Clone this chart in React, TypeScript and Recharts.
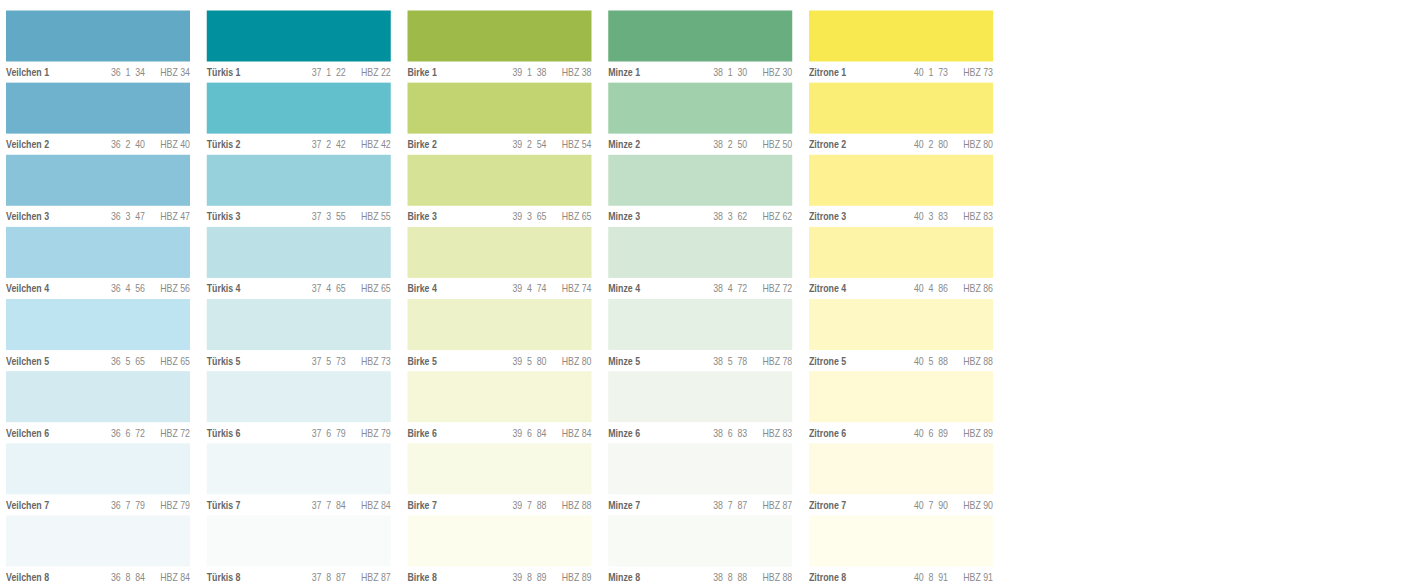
import { BarChart, Bar, XAxis, YAxis } from "recharts";

const FAMILIES = ["Veilchen", "Türkis", "Birke", "Minze", "Zitrone"];
const FAMILY_CODES = [36, 37, 39, 38, 40];
const LEVELS = [1, 2, 3, 4, 5, 6, 7, 8];

const VEILCHEN_HBZ = [34, 40, 47, 56, 65, 72, 79, 84];
const TUERKIS_HBZ = [22, 42, 55, 65, 73, 79, 84, 87];
const BIRKE_HBZ = [38, 54, 65, 74, 80, 84, 88, 89];
const MINZE_HBZ = [30, 50, 62, 72, 78, 83, 87, 88];
const ZITRONE_HBZ = [73, 80, 83, 86, 88, 89, 90, 91];

const VEILCHEN_COLORS = ["#62a9c6", "#6fb2cd", "#88c3d9", "#a6d5e7", "#bee3f1", "#d2eaf0", "#e8f4f8", "#f2f8f9"];
const TUERKIS_COLORS = ["#00909e", "#62c0cd", "#97d2dc", "#bbe1e6", "#d3eaec", "#e1f0f3", "#eff7f8", "#f8fbfa"];
const BIRKE_COLORS = ["#9ebb4a", "#c1d471", "#d6e397", "#e6ecb5", "#eef2c9", "#f5f7d8", "#f9fae5", "#fdfdee"];
const MINZE_COLORS = ["#69ae7e", "#a1d0ac", "#c0dfc6", "#d6e9d9", "#e4f0e4", "#eff5ec", "#f5f8f3", "#f8faf6"];
const ZITRONE_COLORS = ["#f7e94f", "#faee76", "#fdf191", "#fef4a7", "#fef8c4", "#fff9d4", "#fffbe3", "#fffdec"];

const HBZ = [VEILCHEN_HBZ, TUERKIS_HBZ, BIRKE_HBZ, MINZE_HBZ, ZITRONE_HBZ];
const COLORS = [VEILCHEN_COLORS, TUERKIS_COLORS, BIRKE_COLORS, MINZE_COLORS, ZITRONE_COLORS];

// every family gets one unit cell per level, stacked top to bottom
const data = FAMILIES.map((family) => {
  const row: Record<string, string | number> = { family };
  LEVELS.forEach((l) => (row[`l${l}`] = 1));
  return row;
});

const SWATCH_SHARE = 51 / 72.14;
const FONT = "'Liberation Sans', Arial, sans-serif";
const NARROW = 0.8; // squeeze regular sans into a condensed look

function SwatchCell(props: any) {
  const { x, y, width, height, payload, level } = props;
  const fi = FAMILIES.indexOf(payload.family);
  const top = Math.min(y, y + height);
  const h = Math.abs(height);
  const swatchH = h * SWATCH_SHARE;
  const base = top + swatchH + 14.5;
  const hbz = HBZ[fi][level - 1];
  return (
    <g>
      <rect x={x} y={top} width={width} height={swatchH} fill={COLORS[fi][level - 1]} />
      <text
        transform={`translate(${x},${base}) scale(${NARROW},1)`}
        fontFamily={FONT}
        fontSize={11}
        fontWeight={700}
        fill="#666"
      >
        {payload.family} {level}
      </text>
      <text
        transform={`translate(${x + width - 45},${base}) scale(${NARROW},1)`}
        fontFamily={FONT}
        fontSize={11}
        fill="#8a8a8a"
        textAnchor="end"
      >
        {FAMILY_CODES[fi]}
        <tspan dx={6}>{level}</tspan>
        <tspan dx={6}>{hbz}</tspan>
      </text>
      <text
        transform={`translate(${x + width},${base}) scale(${NARROW},1)`}
        fontFamily={FONT}
        fontSize={11}
        fill="#8a8a8a"
        textAnchor="end"
      >
        HBZ {hbz}
      </text>
    </g>
  );
}

export default function App() {
  return (
    <div style={{ position: "fixed", left: 0, top: 0, width: 1410, height: 585, overflow: "hidden", background: "#fff" }}>
      <BarChart
        width={1410}
        height={588}
        data={data}
        barSize={184}
        margin={{ top: 10.5, right: 408.25, bottom: 0.4, left: -2 }}
      >
        <XAxis dataKey="family" hide />
        <YAxis type="number" domain={[0, 8]} reversed hide />
        {LEVELS.map((l) => (
          <Bar
            key={l}
            dataKey={`l${l}`}
            stackId="swatch"
            isAnimationActive={false}
            shape={(p: any) => <SwatchCell {...p} level={l} />}
          />
        ))}
      </BarChart>
    </div>
  );
}
